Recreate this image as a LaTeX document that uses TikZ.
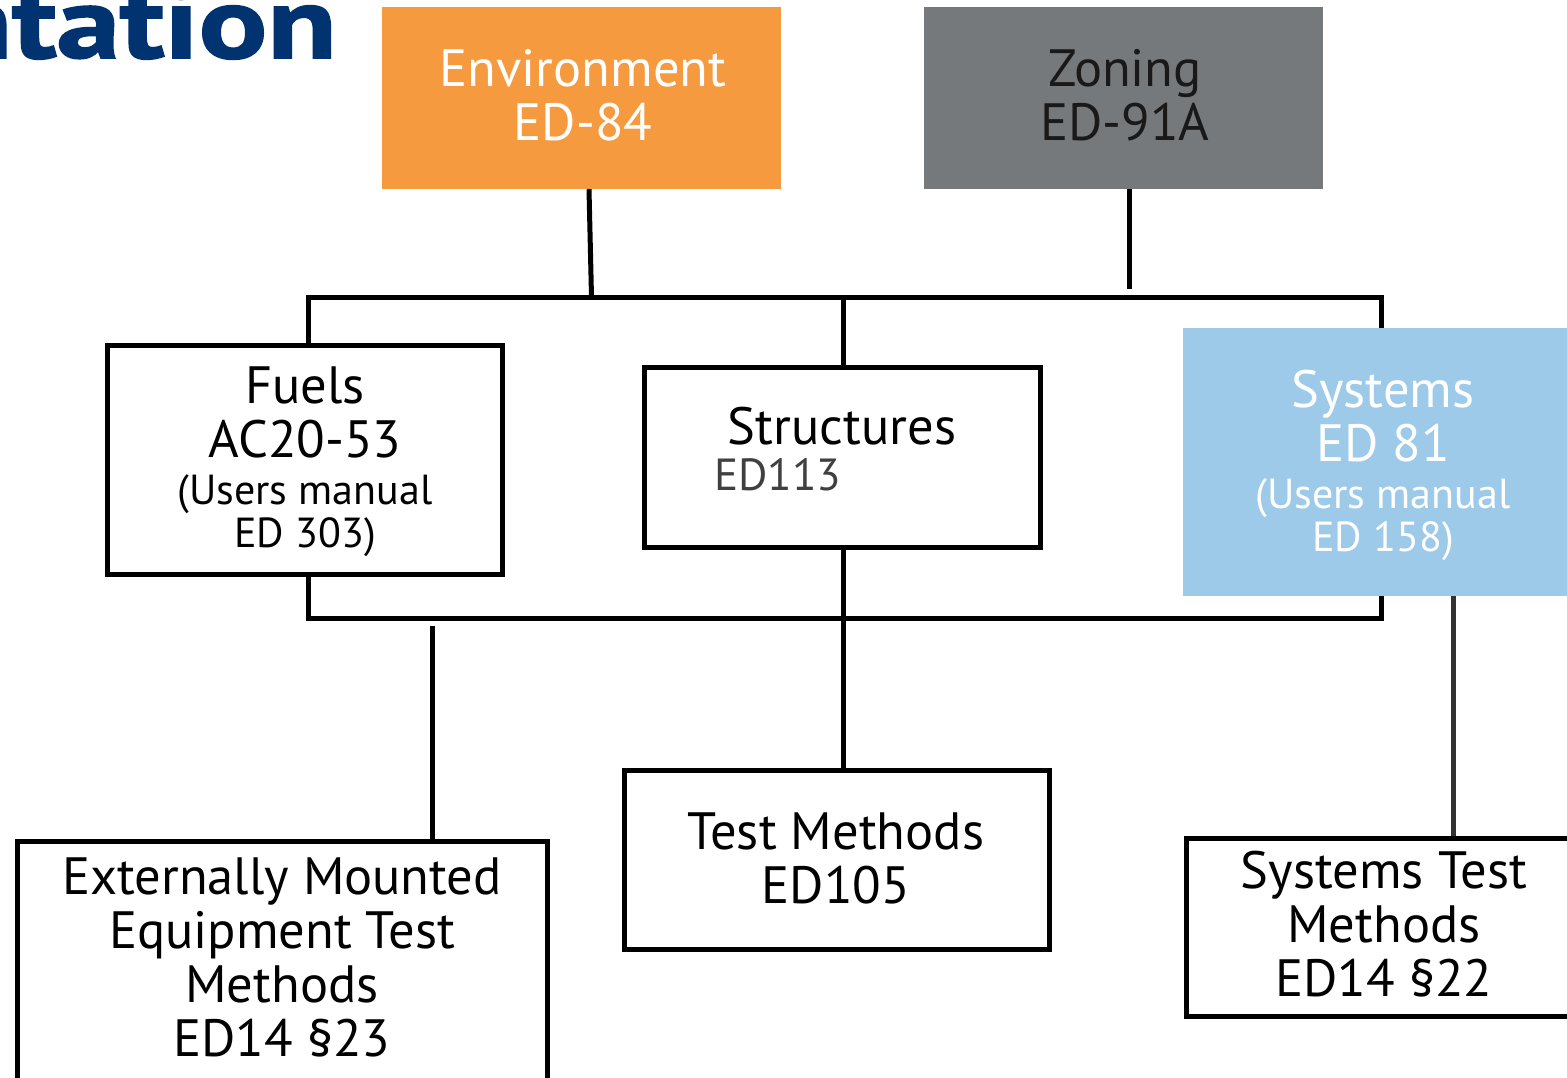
\documentclass[tikz,border=0pt]{standalone}
\usepackage{fontspec}
\setmainfont{PT Sans}
\newfontfamily\titlefont[BoldFeatures={FakeBold=1.5}]{PT Sans}
\definecolor{envorange}{HTML}{F69A40}
\definecolor{zongray}{HTML}{76797C}
\definecolor{sysblue}{HTML}{9DCAE9}
\definecolor{titleblue}{HTML}{003370}
\definecolor{codegray}{HTML}{404040}
\definecolor{darkline}{HTML}{333333}
\begin{document}
\begin{tikzpicture}[x=1pt,y=-1pt,
  fillbox/.style={rectangle, inner sep=0pt, draw=none},
  linebox/.style={rectangle, inner sep=0pt, draw=black, line width=5pt, fill=white},
  lbl/.style={inner sep=0pt, align=center, font=\fontsize{52.5}{54}\selectfont},
  conn/.style={line width=5pt, draw=black}]
\useasboundingbox (0,0) rectangle (1567,1077);
\clip (0,0) rectangle (1567,1077);
% title fragment (cut off by the picture's edge, as in the reference)
\node[anchor=base east, inner sep=0pt, text=titleblue, xscale=1.25, font=\fontsize{102}{102}\titlefont\bfseries] (title) at (337,58) {ntation};
% top filled boxes
\node[fillbox, fill=envorange, minimum width=399pt, minimum height=182pt] (env) at (581.5,98) {};
\node[lbl, text=white] (envtext) at (583,95) {Environment\\ED-84};
\node[fillbox, fill=zongray, minimum width=399pt, minimum height=182pt] (zon) at (1123.5,98) {};
\node[lbl, text=black!90] (zontext) at (1125,95) {Zoning\\ED-91A};
% bus coordinates
\coordinate (tl) at (308.5,297.5);
\coordinate (tr) at (1381,297.5);
\coordinate (bl) at (308,618.5);
\coordinate (br) at (1381,618.5);
\coordinate (smid) at (843.5,297.5);
\coordinate (envjoin) at (591.5,297);
\coordinate (zonjoin) at (1129.5,289);
\coordinate (extjoin) at (432,626);
% middle boxes
\node[linebox, minimum width=395pt, minimum height=229pt] (fuels) at (305,460) {};
\node[lbl] (fuelstext) at (305,462) {Fuels\\AC20-53\\[-7pt]{\fontsize{42}{44}\selectfont (Users manual}\\[-11pt]{\fontsize{42}{44}\selectfont ED 303)}};
\node[linebox, minimum width=396pt, minimum height=180pt] (struct) at (842,457) {};
\node[lbl, anchor=base] (structtext) at (842,444) {Structures};
\node[lbl, anchor=base west, text=codegray, font=\fontsize{45}{50}\selectfont] (structcode) at (714,490) {ED113};
\node[fillbox, fill=sysblue, minimum width=384pt, minimum height=268pt] (sys) at (1375,462) {};
\node[lbl, text=white] (systext) at (1383,465) {Systems\\ED 81\\[-7pt]{\fontsize{42}{44}\selectfont (Users manual}\\[-11pt]{\fontsize{42}{44}\selectfont ED 158)}};
% bus
\draw[conn] (fuels.north -| tl) -- (tl) -- (tr) -- (sys.north -| tr);
\draw[conn] (fuels.south -| bl) -- (bl) -- (br) -- (sys.south -| br);
\draw[conn] ([xshift=7.5pt]env.south) -- (envjoin);
\draw[conn] ([xshift=6pt]zon.south) -- (zonjoin);
\draw[conn] (smid) -- (smid |- struct.north);
% bottom boxes
\node[linebox, minimum width=425pt, minimum height=179pt] (test) at (836.5,859.5) {};
\node[lbl] (testtext) at (836,858) {Test Methods\\ED105};
\node[linebox, minimum width=530pt, minimum height=260pt] (ext) at (282,971) {};
\node[lbl] (exttext) at (282,957) {Externally Mounted\\Equipment Test\\Methods\\ED14 \S23};
\node[linebox, minimum width=400pt, minimum height=178pt] (systest) at (1386,927) {};
\node[lbl] (systesttext) at (1384,924) {Systems Test\\Methods\\ED14 \S22};
% vertical connectors
\draw[conn] (struct.south -| smid) -- (test.north -| smid);
\draw[conn] (extjoin) -- (extjoin |- ext.north);
\draw[conn, draw=darkline] ([xshift=78.5pt]sys.south) -- ([xshift=78.5pt]sys.south |- systest.north);
\end{tikzpicture}
\end{document}
